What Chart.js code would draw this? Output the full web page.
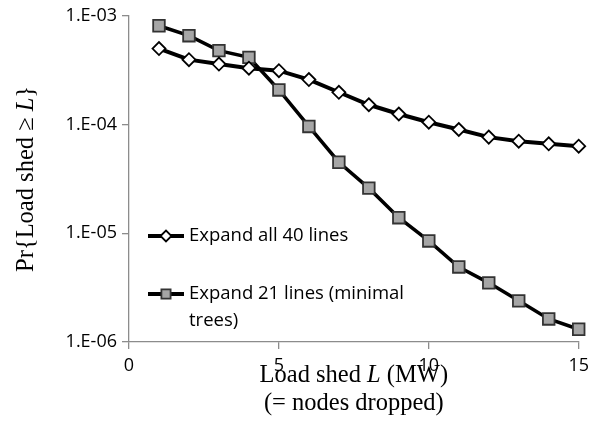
<!DOCTYPE html>
<html>
<head>
<meta charset="utf-8">
<script src="https://cdn.jsdelivr.net/npm/chart.js@4/dist/chart.umd.min.js"></script>
<style>
  html, body { margin: 0; padding: 0; background: #fff; }
  #wrap { width: 595px; height: 448px; }
</style>
</head>
<body>
<div id="wrap"><canvas id="c" width="595" height="448"></canvas></div>
<script>
const loadShed = [1, 2, 3, 4, 5, 6, 7, 8, 9, 10, 11, 12, 13, 14, 15];
const expandAll40 = [5.0e-4, 3.95e-4, 3.6e-4, 3.3e-4, 3.13e-4, 2.59e-4, 1.98e-4, 1.52e-4, 1.25e-4, 1.05e-4, 9.0e-5, 7.66e-5, 7.03e-5, 6.65e-5, 6.32e-5];
const expand21 = [8.1e-4, 6.56e-4, 4.78e-4, 4.15e-4, 2.08e-4, 9.6e-5, 4.5e-5, 2.6e-5, 1.39e-5, 8.5e-6, 4.9e-6, 3.5e-6, 2.39e-6, 1.63e-6, 1.31e-6];
const seriesNames = ["Expand all 40 lines", "Expand 21 lines (minimal trees)"];
const legendLines = [["Expand all 40 lines"], ["Expand 21 lines (minimal", "trees)"]];
const yTickLabels = ["1.E-06", "1.E-05", "1.E-04", "1.E-03"];
const yTickValues = [1e-6, 1e-5, 1e-4, 1e-3];
const xTickValues = [0, 5, 10, 15];
const xTitleLine1 = [["Load shed ", false], ["L", true], [" (MW)", false]];
const xTitleLine2 = "(= nodes dropped)";
const yTitleParts = [["Pr{Load shed \u2265 ", false], ["L", true], ["}", false]];

const AXIS = '#8c8c8c';
const TICKFONT = { family: "'Open Sans', sans-serif", size: 18 };
const SERIF = "'Liberation Serif', 'Times New Roman', serif";

const ds0 = {
  label: seriesNames[0],
  data: loadShed.map((x, i) => ({ x, y: expandAll40[i] })),
  borderColor: '#000', borderWidth: 4,
  pointStyle: 'rectRot', pointRadius: 6.5, pointBorderWidth: 1.8,
  pointBackgroundColor: '#fff', pointBorderColor: '#000',
  tension: 0, order: 1, clip: false
};
const ds1 = {
  label: seriesNames[1],
  data: loadShed.map((x, i) => ({ x, y: expand21[i] })),
  borderColor: '#000', borderWidth: 3.5,
  pointStyle: 'rect', pointRadius: 8.2, pointBorderWidth: 1.8,
  pointBackgroundColor: '#a6a6a6', pointBorderColor: '#333',
  tension: 0, order: 2, clip: false
};

function drawMixed(ctx, parts, size, x, y, align) {
  let total = 0;
  const widths = parts.map(([t, it]) => {
    ctx.font = (it ? 'italic ' : '') + size + 'px ' + SERIF;
    const w = ctx.measureText(t).width;
    total += w;
    return w;
  });
  let cx = align === 'center' ? x - total / 2 : x;
  parts.forEach(([t, it], i) => {
    ctx.font = (it ? 'italic ' : '') + size + 'px ' + SERIF;
    ctx.fillText(t, cx, y);
    cx += widths[i];
  });
}

const decorPlugin = {
  id: 'decor',
  afterDraw(chart) {
    const ctx = chart.ctx;
    const ca = chart.chartArea;
    ctx.save();
    ctx.fillStyle = '#000';
    ctx.textBaseline = 'middle';
    ctx.textAlign = 'left';
    const cx = (ca.left + ca.right) / 2;
    drawMixed(ctx, xTitleLine1, 24.5, cx, 376, 'center');
    ctx.font = '24.5px ' + SERIF;
    ctx.textAlign = 'center';
    ctx.fillText(xTitleLine2, cx, 404);
    ctx.save();
    ctx.translate(27, (ca.top + ca.bottom) / 2);
    ctx.rotate(-Math.PI / 2);
    ctx.textAlign = 'left';
    drawMixed(ctx, yTitleParts, 24.5, 0, 0, 'center');
    ctx.restore();

    const items = [
      { ds: ds0, y: 236, r: 5.5 },
      { ds: ds1, y: 294, r: 6.5 }
    ];
    items.forEach((it, i) => {
      ctx.strokeStyle = '#000';
      ctx.lineWidth = 4;
      ctx.beginPath();
      ctx.moveTo(148, it.y);
      ctx.lineTo(184, it.y);
      ctx.stroke();
      ctx.fillStyle = it.ds.pointBackgroundColor;
      ctx.strokeStyle = it.ds.pointBorderColor;
      ctx.lineWidth = 1.8;
      Chart.helpers.drawPoint(ctx, {
        pointStyle: it.ds.pointStyle, radius: it.r, rotation: 0,
        borderWidth: 1.8
      }, 166, it.y);
      ctx.fillStyle = '#000';
      ctx.textAlign = 'left';
      ctx.font = "18.5px 'Open Sans', sans-serif";
      legendLines[i].forEach((line, j) => {
        ctx.fillText(line, 189, it.y + j * 27);
      });
    });
    ctx.restore();
  }
};

new Chart(document.getElementById('c'), {
  type: 'line',
  data: { datasets: [ds0, ds1] },
  options: {
    responsive: false,
    animation: false,
    devicePixelRatio: 1,
    layout: { padding: { left: 0, top: 15, right: 16, bottom: 0 } },
    plugins: { legend: { display: false }, tooltip: { enabled: false } },
    scales: {
      x: {
        type: 'linear', min: 0, max: 15,
        afterBuildTicks: (s) => { s.ticks = xTickValues.map(v => ({ value: v })); },
        afterFit: (s) => { s.height = 106; },
        ticks: { color: '#000', font: TICKFONT, padding: 6, maxRotation: 0,
                 callback: (v) => String(v) },
        grid: { drawOnChartArea: false, drawTicks: true, tickLength: 7, color: AXIS, lineWidth: 1.3 },
        border: { color: AXIS, width: 1.3 }
      },
      y: {
        type: 'logarithmic', min: 1e-6, max: 1e-3,
        afterBuildTicks: (s) => { s.ticks = yTickValues.map(v => ({ value: v })); },
        afterFit: (s) => { s.width = 129; },
        ticks: { color: '#000', font: TICKFONT, padding: 5,
                 callback: (v) => { const i = yTickValues.findIndex(t => Math.abs(t - v) / t < 1e-6); return i >= 0 ? yTickLabels[i] : ''; } },
        grid: { drawOnChartArea: false, drawTicks: true, tickLength: 7, color: AXIS, lineWidth: 1.3 },
        border: { color: AXIS, width: 1.3 }
      }
    }
  },
  plugins: [decorPlugin]
});
</script>
</body>
</html>
